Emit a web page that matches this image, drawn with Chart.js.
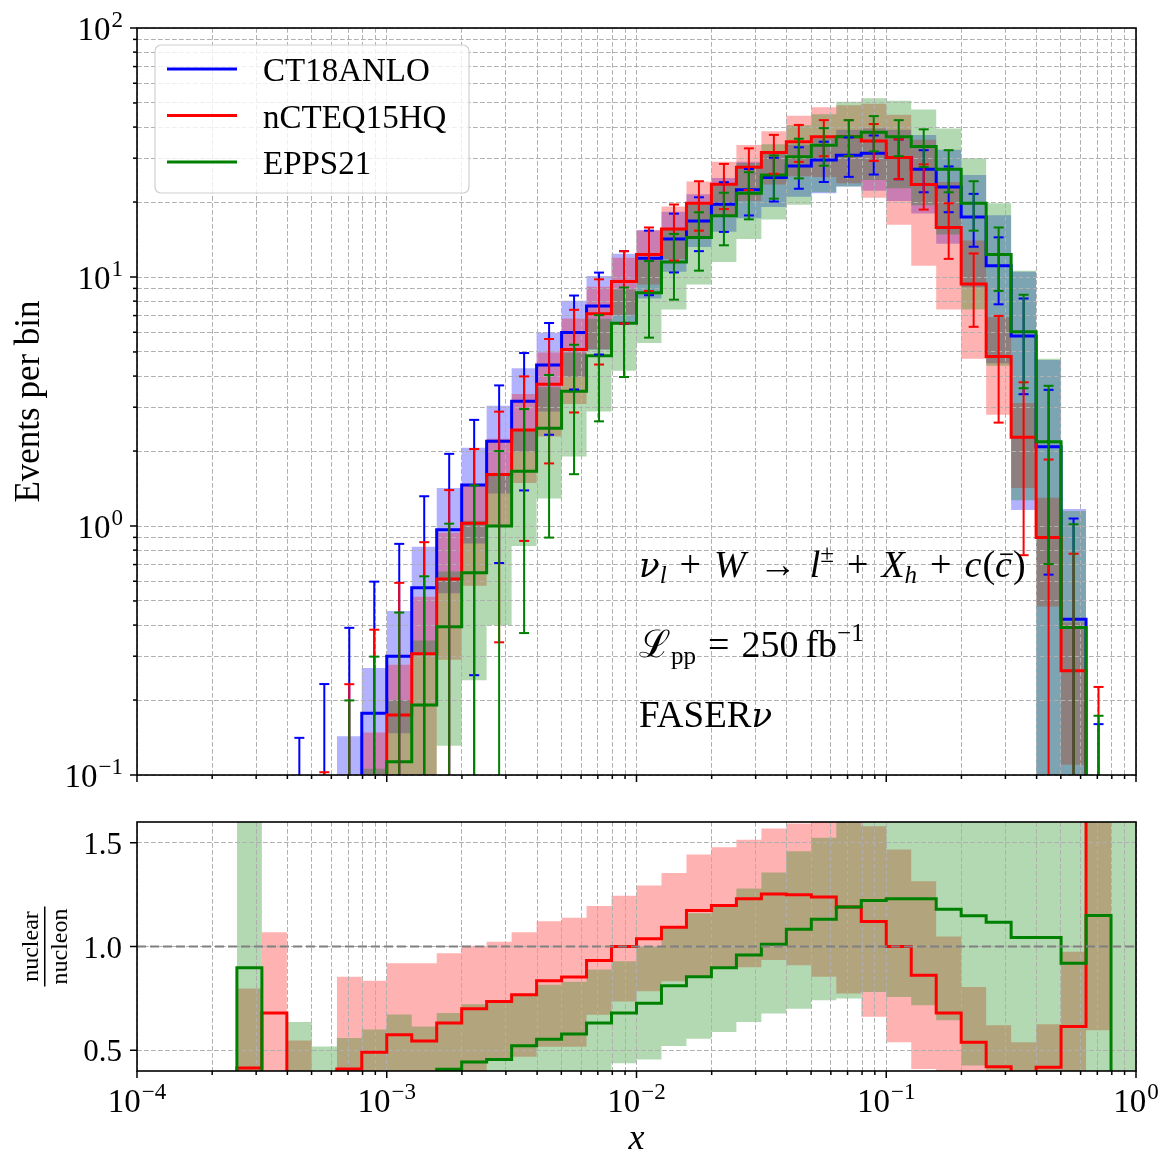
<!DOCTYPE html>
<html>
<head>
<meta charset="utf-8">
<script src="https://cdn.jsdelivr.net/npm/chart.js@4.4.1/dist/chart.umd.min.js"></script>
<style>
  html, body { margin: 0; padding: 0; background: #fff; }
  #wrap { position: relative; width: 1176px; height: 1176px; }
  canvas { position: absolute; left: 0; }
  #top { top: 0; }
  #bot { top: 800px; }
</style>
</head>
<body>
<div id="wrap">
  <canvas id="top" width="1176" height="800"></canvas>
  <canvas id="bot" width="1176" height="376"></canvas>
</div>
<script>
// bin edges, log10(x); first bin is a padding bin for the ratio step lines
const EDGE_EXP = [-3.7,-3.6,-3.5,-3.4,-3.3,-3.2,-3.1,-3.0,-2.9,-2.8,-2.7,-2.6,-2.5,-2.4,-2.3,-2.2,-2.1,-2.0,
  -1.9,-1.8,-1.7,-1.6,-1.5,-1.4,-1.3,-1.2,-1.1,-1.0,-0.9,-0.8,-0.7,-0.6,-0.5,-0.4,-0.3,-0.2,-0.1,0.0];

// events per bin (central values)
const CT18  = [null, 0.003, 0.006, 0.0157, 0.0377, 0.09, 0.177, 0.30, 0.565, 0.966, 1.46, 2.19, 3.17, 4.43, 5.98, 7.65,
  9.6, 11.9, 14.2, 16.8, 19.6, 22.4, 25.1, 27.9, 29.5, 30.8, 31.4, 30.2, 27.1, 23.0, 17.4, 11.1, 5.79, 2.08, 0.422, 0.0197, null];
const NCTEQ = [null, 0.0012, 0.004, 0.001, 0.0088, 0.0376, 0.0875, 0.174, 0.307, 0.612, 1.025, 1.61, 2.43, 3.71, 5.12, 7.12,
  9.6, 12.3, 15.6, 19.8, 23.6, 27.6, 31.6, 34.9, 36.6, 36.6, 35.2, 30.2, 23.5, 15.8, 9.37, 4.79, 2.27, 0.90, 0.262, 0.036, null];
const EPPS  = [null, 0.0027, 0.0005, 0.002, 0.005, 0.029, 0.058, 0.113, 0.191, 0.394, 0.649, 1.0, 1.66, 2.47, 3.48, 4.83,
  6.52, 8.65, 11.5, 14.4, 17.6, 21.7, 25.7, 30.4, 33.8, 36.6, 38.1, 36.6, 33.4, 27.1, 19.8, 12.3, 6.03, 2.18, 0.391, 0.0226, null];

// PDF uncertainty bands, top panel
const CT18_LO = [null, null, null, null, null, 0.05, 0.09, 0.147, 0.304, 0.537, 0.85, 1.35, 1.99, 2.88, 3.98, 5.1,
  6.6, 8.2, 10.5, 13.2, 15.2, 17.2, 19.1, 21.0, 21.7, 23.1, 22.2, 20.2, 18.0, 13.6, 9.1, 4.5, 1.16, 0.05, 0.05, null, null];
const CT18_HI = [null, null, null, null, null, 0.143, 0.269, 0.456, 0.826, 1.42, 2.06, 3.04, 4.30, 5.97, 8.03, 10.1,
  12.4, 15.4, 18.3, 21.5, 25.0, 29.0, 31.5, 34.0, 36.0, 39.0, 39.5, 39.0, 37.2, 32.4, 25.7, 17.7, 10.5, 4.64, 1.17, null, null];
const NCTEQ_LO = [null, null, null, null, null, null, 0.03, 0.05, 0.08, 0.29, 0.575, 0.99, 1.49, 2.29, 3.09, 5.13,
  7.05, 9.33, 11.8, 14.3, 17.5, 20.2, 23.5, 25.4, 25.2, 23.8, 20.8, 16.2, 11.1, 7.4, 4.7, 2.8, 1.42, 0.475, 0.11, null, null];
const NCTEQ_HI = [null, null, null, null, null, null, 0.148, 0.277, 0.52, 0.94, 1.47, 2.24, 3.39, 4.97, 6.81, 9.14,
  11.95, 15.4, 19.2, 24.2, 29.0, 33.9, 38.5, 44.4, 48.0, 49.0, 49.6, 44.8, 35.6, 24.1, 14.0, 6.9, 3.12, 1.30, 0.41, null, null];
const EPPS_LO = [null, null, null, null, null, null, 0.02, 0.03, 0.05, 0.131, 0.24, 0.40, 0.832, 1.29, 1.90, 2.88,
  4.2, 5.43, 7.4, 9.34, 11.5, 14.2, 17.0, 19.5, 21.9, 23.1, 24.5, 22.7, 19.4, 14.8, 7.4, 4.4, 1.27, 0.05, 0.05, null, null];
const EPPS_HI = [null, null, null, null, null, null, 0.106, 0.20, 0.347, 0.657, 1.05, 1.62, 2.43, 3.61, 4.96, 6.8,
  8.9, 11.9, 15.5, 19.5, 23.5, 28.7, 34.1, 40.7, 45.0, 50.6, 52.2, 51.0, 47.1, 39.5, 30.0, 19.8, 10.6, 4.7, 1.15, null, null];

// nuclear / nucleon ratios, bottom panel
const R_NCTEQ = [0, 0.415, 0.68, 0.06, 0.23, 0.41, 0.49, 0.575, 0.544, 0.631, 0.70, 0.735, 0.768, 0.835, 0.853, 0.932,
  1.0, 1.037, 1.093, 1.173, 1.197, 1.23, 1.253, 1.25, 1.238, 1.19, 1.12, 1.0, 0.862, 0.68, 0.539, 0.421, 0.35, 0.418, 0.615, 1.8, null];
const R_NCTEQ_LO = [null, 0.2, 0.2, 0.2, null, 0.2, 0.2, 0.2, 0.14, 0.3, 0.39, 0.453, 0.469, 0.517, 0.517, 0.671,
  0.735, 0.784, 0.832, 0.854, 0.895, 0.90, 0.935, 0.91, 0.854, 0.774, 0.662, 0.539, 0.41, 0.32, 0.27, 0.25, 0.245, 0.23, 0.26, 0.596, null];
const R_NCTEQ_HI = [null, 0.798, 1.069, 0.547, null, 0.854, 0.835, 0.919, 0.919, 0.967, 1.004, 1.023, 1.069, 1.122, 1.139, 1.195,
  1.245, 1.294, 1.354, 1.443, 1.478, 1.515, 1.569, 1.593, 1.7, 1.7, 1.58, 1.467, 1.314, 1.048, 0.805, 0.62, 0.539, 0.625, 0.975, 1.8, null];
const R_EPPS = [0, 0.897, 0.08, 0.13, 0.13, 0.32, 0.33, 0.377, 0.338, 0.408, 0.443, 0.456, 0.522, 0.553, 0.578, 0.631,
  0.68, 0.727, 0.811, 0.854, 0.897, 0.959, 1.011, 1.083, 1.131, 1.19, 1.222, 1.23, 1.23, 1.18, 1.148, 1.117, 1.043, 1.043, 0.919, 1.149, 0];
const R_EPPS_LO = [null, 0.2, null, 0.1, 0.1, 0.1, 0.1, 0.1, 0.1, 0.14, 0.16, 0.18, 0.26, 0.29, 0.32, 0.376,
  0.437, 0.456, 0.52, 0.556, 0.588, 0.636, 0.677, 0.70, 0.741, 0.75, 0.781, 0.757, 0.717, 0.644, 0.426, 0.39, 0.22, 0.02, 0.1, 0.1, 0.1];
const R_EPPS_HI = [null, 1.9, null, 0.636, 0.518, 0.559, 0.60, 0.672, 0.615, 0.68, 0.722, 0.73, 0.768, 0.816, 0.83, 0.889,
  0.929, 1.0, 1.09, 1.16, 1.2, 1.28, 1.357, 1.459, 1.524, 1.64, 1.66, 1.70, 1.74, 1.72, 1.72, 1.78, 1.83, 2.2, 2.7, 1.8, 1.8];
const RATIO_REF = 1.0;

const LABELS = ['CT18ANLO', 'nCTEQ15HQ', 'EPPS21'];
const X_RANGE = [1e-4, 1];
const Y_RANGE = [0.1, 100];
const R_RANGE = [0.4, 1.6];
const R_TICKS = [0.5, 1.0, 1.5];

const SERIF = '"Liberation Serif", "DejaVu Serif", serif';
const GREEK = '"DejaVu Serif", serif';
const COLORS = ['#0000ff', '#ff0000', '#008000'];
const FILLS = ['rgba(0,0,255,0.3)', 'rgba(255,0,0,0.3)', 'rgba(0,128,0,0.3)'];
const GRID = '#b0b0b0';

const EDGES = EDGE_EXP.map(e => Math.pow(10, e));

// histogram -> step points
function steps(vals) {
  const pts = [];
  vals.forEach((v, i) => {
    if (v == null) { pts.push({x: EDGES[i], y: null}); return; }
    pts.push({x: EDGES[i], y: v}, {x: EDGES[i + 1], y: v});
  });
  return pts;
}

function lineSet(vals, color, order, extra) {
  return Object.assign({data: steps(vals), borderColor: color, borderWidth: 3, pointRadius: 0,
    fill: false, order: order, clip: 0, borderJoinStyle: 'miter'}, extra || {});
}
function bandSets(lo, hi, color, order) {
  return [
    {data: steps(lo), borderWidth: 0, borderColor: 'transparent', pointRadius: 0, fill: false, order: order, clip: 0},
    {data: steps(hi), borderWidth: 0, borderColor: 'transparent', backgroundColor: color, pointRadius: 0, fill: '-1', order: order, clip: 0}
  ];
}

function logTicks(axis) {
  const out = [];
  const e0 = Math.round(Math.log10(axis.min)), e1 = Math.round(Math.log10(axis.max));
  for (let e = e0; e < e1; e++)
    for (let m = 1; m <= 9; m++) out.push({value: m * Math.pow(10, e), major: m === 1});
  out.push({value: axis.max, major: true});
  axis.ticks = out;
}

function seg(ctx, x1, y1, x2, y2) { ctx.beginPath(); ctx.moveTo(x1, y1); ctx.lineTo(x2, y2); ctx.stroke(); }

function drawPow(ctx, x, y, exp, align) {
  const sup = exp < 0 ? '\u2212' + (-exp) : String(exp);
  ctx.font = '33px ' + SERIF;
  const wb = ctx.measureText('10').width;
  ctx.font = '23px ' + SERIF;
  const ws = ctx.measureText(sup).width;
  const total = wb + 1 + ws;
  const x0 = align === 'right' ? x - total : x - total / 2;
  ctx.textAlign = 'left';
  ctx.textBaseline = 'alphabetic';
  ctx.font = '33px ' + SERIF;
  ctx.fillText('10', x0, y);
  ctx.font = '23px ' + SERIF;
  ctx.fillText(sup, x0 + wb + 1, y - 13);
}

function rich(ctx, x, y, parts, base) {
  let cx = x;
  ctx.textAlign = 'left';
  ctx.textBaseline = 'alphabetic';
  for (const p of parts) {
    const s = p.s || base;
    ctx.font = (p.it ? 'italic ' : '') + s + 'px ' + (p.f || SERIF);
    cx += p.pre || 0;
    const w = ctx.measureText(p.t).width;
    ctx.fillText(p.t, cx, y + (p.dy || 0));
    if (p.bar) ctx.fillRect(cx + w * 0.3, y - s * 0.62, w * 0.75, 1.6);
    cx += w + (p.post || 0);
  }
}

function frameAndTicks(ctx, a, x, y, yTicks) {
  ctx.save();
  ctx.setLineDash([]);
  ctx.strokeStyle = '#000';
  ctx.lineWidth = 1.5;
  x.ticks.forEach(t => {
    const px = x.getPixelForValue(t.value);
    seg(ctx, px, a.bottom, px, a.bottom + (t.major ? 7 : 4));
  });
  yTicks.forEach(t => {
    const py = y.getPixelForValue(t.value);
    seg(ctx, a.left, py, a.left - (t.major ? 7 : 4), py);
  });
  ctx.lineWidth = 1.6;
  ctx.strokeRect(a.left, a.top, a.right - a.left, a.bottom - a.top);
  ctx.restore();
}

const SERIES = [
  {vals: CT18, color: COLORS[0]},
  {vals: NCTEQ, color: COLORS[1]},
  {vals: EPPS, color: COLORS[2]}
];

const deco = {
  id: 'deco',
  beforeDatasetDraw(chart, args) {
    const ds = chart.data.datasets[args.index];
    if (ds.gridAbove) {
      chart.scales.x.drawGrid(chart.chartArea);
      chart.scales.y.drawGrid(chart.chartArea);
    }
  },
  afterDatasetsDraw(chart, args, opts) {
    if (opts.kind !== 'top') return;
    const {ctx, chartArea: a, scales: {x, y}} = chart;
    ctx.save();
    ctx.beginPath();
    ctx.rect(a.left, a.top, a.right - a.left, a.bottom - a.top);
    ctx.clip();
    ctx.setLineDash([]);
    ctx.lineWidth = 2;
    SERIES.forEach(s => {
      ctx.strokeStyle = s.color;
      s.vals.forEach((v, i) => {
        if (v == null || v <= 0) return;
        const xc = x.getPixelForValue(Math.sqrt(EDGES[i] * EDGES[i + 1]));
        const err = Math.sqrt(v);
        const yt = y.getPixelForValue(v + err);
        const hasLow = v - err > 0;
        const yb = hasLow ? y.getPixelForValue(v - err) : a.bottom + 20;
        seg(ctx, xc, yt, xc, yb);
        seg(ctx, xc - 5, yt, xc + 5, yt);
        if (hasLow) seg(ctx, xc - 5, yb, xc + 5, yb);
      });
    });
    ctx.restore();
  },
  afterDraw(chart, args, opts) {
    const {ctx, chartArea: a, scales: {x, y}} = chart;
    ctx.save();
    ctx.fillStyle = '#000';
    if (opts.kind === 'top') {
      frameAndTicks(ctx, a, x, y, y.ticks);
      y.ticks.filter(t => t.major).forEach(t => {
        drawPow(ctx, 123, y.getPixelForValue(t.value) + 12, Math.round(Math.log10(t.value)), 'right');
      });
      // y title
      ctx.save();
      ctx.translate(39, (a.top + a.bottom) / 2);
      ctx.rotate(-Math.PI / 2);
      ctx.font = '35px ' + SERIF;
      ctx.textAlign = 'center';
      ctx.fillText('Events per bin', 0, 0);
      ctx.restore();
      // legend
      const lx = a.left + 18, ly = a.top + 17, lw = 314, lh = 148;
      ctx.beginPath();
      ctx.roundRect(lx, ly, lw, lh, 6);
      ctx.fillStyle = 'rgba(255,255,255,0.8)';
      ctx.fill();
      ctx.strokeStyle = '#d0d0d0';
      ctx.lineWidth = 1.2;
      ctx.stroke();
      LABELS.forEach((lab, i) => {
        const yy = ly + 24 + i * 46.5;
        ctx.strokeStyle = COLORS[i];
        ctx.lineWidth = 3;
        seg(ctx, lx + 12, yy, lx + 82, yy);
        ctx.fillStyle = '#000';
        ctx.font = '33px ' + SERIF;
        ctx.textAlign = 'left';
        ctx.fillText(lab, lx + 108, yy + 12);
      });
      // annotations
      ctx.fillStyle = '#000';
      const tx = a.left + 502;
      rich(ctx, tx, 577, [
        {t: '\u03bd', it: 1, f: GREEK, s: 34}, {t: 'l', it: 1, s: 25, dy: 6},
        {t: '+', pre: 13, post: 13}, {t: 'W', it: 1},
        {t: '\u2192', pre: 13, post: 13}, {t: 'l', it: 1}, {t: '\u00b1', s: 25, dy: -15},
        {t: '+', pre: 13, post: 13}, {t: 'X', it: 1}, {t: 'h', it: 1, s: 25, dy: 6},
        {t: '+', pre: 13, post: 13}, {t: 'c', it: 1}, {t: '(', pre: 1}, {t: 'c', it: 1, bar: 1}, {t: ')', pre: 1}
      ], 38);
      rich(ctx, tx, 657, [
        {t: '\u2112'}, {t: 'pp', s: 25, dy: 7},
        {t: '=', pre: 12, post: 12}, {t: '250'}, {t: 'fb', pre: 7}, {t: '\u22121', s: 25, dy: -16}
      ], 38);
      rich(ctx, tx, 727, [{t: 'FASER'}, {t: '\u03bd', it: 1, f: GREEK, s: 34}], 37);
    } else {
      frameAndTicks(ctx, a, x, y, R_TICKS.map(v => ({value: v, major: true})));
      x.ticks.filter(t => t.major).forEach(t => {
        drawPow(ctx, x.getPixelForValue(t.value), a.bottom + 41, Math.round(Math.log10(t.value)), 'center');
      });
      ctx.font = '31px ' + SERIF;
      ctx.textAlign = 'right';
      ctx.textBaseline = 'alphabetic';
      R_TICKS.forEach(v => ctx.fillText(v.toFixed(1), 122, y.getPixelForValue(v) + 11));
      // x title
      ctx.font = 'italic 36px ' + SERIF;
      ctx.textAlign = 'center';
      ctx.fillText('x', (a.left + a.right) / 2, a.bottom + 78);
      // y title: fraction
      ctx.save();
      ctx.translate(45, (a.top + a.bottom) / 2);
      ctx.rotate(-Math.PI / 2);
      ctx.font = '24px ' + SERIF;
      ctx.textAlign = 'center';
      ctx.fillText('nuclear', 0, -7);
      ctx.fillText('nucleon', 0, 22);
      const fw = ctx.measureText('nucleon').width + 4;
      ctx.fillRect(-fw / 2, -1, fw, 1.5);
      ctx.restore();
    }
    ctx.restore();
  }
};

function gridScale(type, range, extra) {
  return Object.assign({
    type: type, min: range[0], max: range[1],
    grid: {color: GRID, lineWidth: 1, drawTicks: false},
    border: {display: false, dash: [4.5, 2.5]},
    ticks: {display: false}
  }, extra);
}

const common = {
  responsive: false, animation: false, devicePixelRatio: 1, events: [],
  layout: {autoPadding: false},
  plugins: {legend: {display: false}, tooltip: {enabled: false}}
};

// top panel
new Chart(document.getElementById('top'), {
  type: 'line',
  data: {datasets: [
    ...bandSets(CT18_LO, CT18_HI, FILLS[0], 9),
    ...bandSets(NCTEQ_LO, NCTEQ_HI, FILLS[1], 8),
    ...bandSets(EPPS_LO, EPPS_HI, FILLS[2], 7),
    lineSet(CT18, COLORS[0], 3, {gridAbove: true}),
    lineSet(NCTEQ, COLORS[1], 2),
    lineSet(EPPS, COLORS[2], 1)
  ]},
  options: Object.assign({}, common, {
    layout: {autoPadding: false, padding: {left: 0, right: 40, top: 28, bottom: 0}},
    plugins: Object.assign({}, common.plugins, {deco: {kind: 'top'}}),
    scales: {
      x: gridScale('logarithmic', X_RANGE, {afterBuildTicks: logTicks, afterFit: s => { s.height = 25; }}),
      y: gridScale('logarithmic', Y_RANGE, {afterBuildTicks: logTicks, afterFit: s => { s.width = 137; }})
    }
  }),
  plugins: [deco]
});

// bottom panel
new Chart(document.getElementById('bot'), {
  type: 'line',
  data: {datasets: [
    ...bandSets(R_NCTEQ_LO, R_NCTEQ_HI, FILLS[1], 9),
    ...bandSets(R_EPPS_LO, R_EPPS_HI, FILLS[2], 8),
    lineSet(R_NCTEQ, COLORS[1], 3, {gridAbove: true}),
    lineSet(R_EPPS, COLORS[2], 2),
    {data: [{x: X_RANGE[0], y: RATIO_REF}, {x: X_RANGE[1], y: RATIO_REF}], borderColor: '#808080',
      borderWidth: 2, borderDash: [9, 4], pointRadius: 0, fill: false, order: 1}
  ]},
  options: Object.assign({}, common, {
    layout: {autoPadding: false, padding: {left: 0, right: 40, top: 22, bottom: 0}},
    plugins: Object.assign({}, common.plugins, {deco: {kind: 'bottom'}}),
    scales: {
      x: gridScale('logarithmic', X_RANGE, {afterBuildTicks: logTicks, afterFit: s => { s.height = 105; }}),
      y: gridScale('linear', R_RANGE, {
        afterBuildTicks: axis => { axis.ticks = R_TICKS.map(v => ({value: v})); },
        afterFit: s => { s.width = 137; }
      })
    }
  }),
  plugins: [deco]
});
</script>
</body>
</html>
